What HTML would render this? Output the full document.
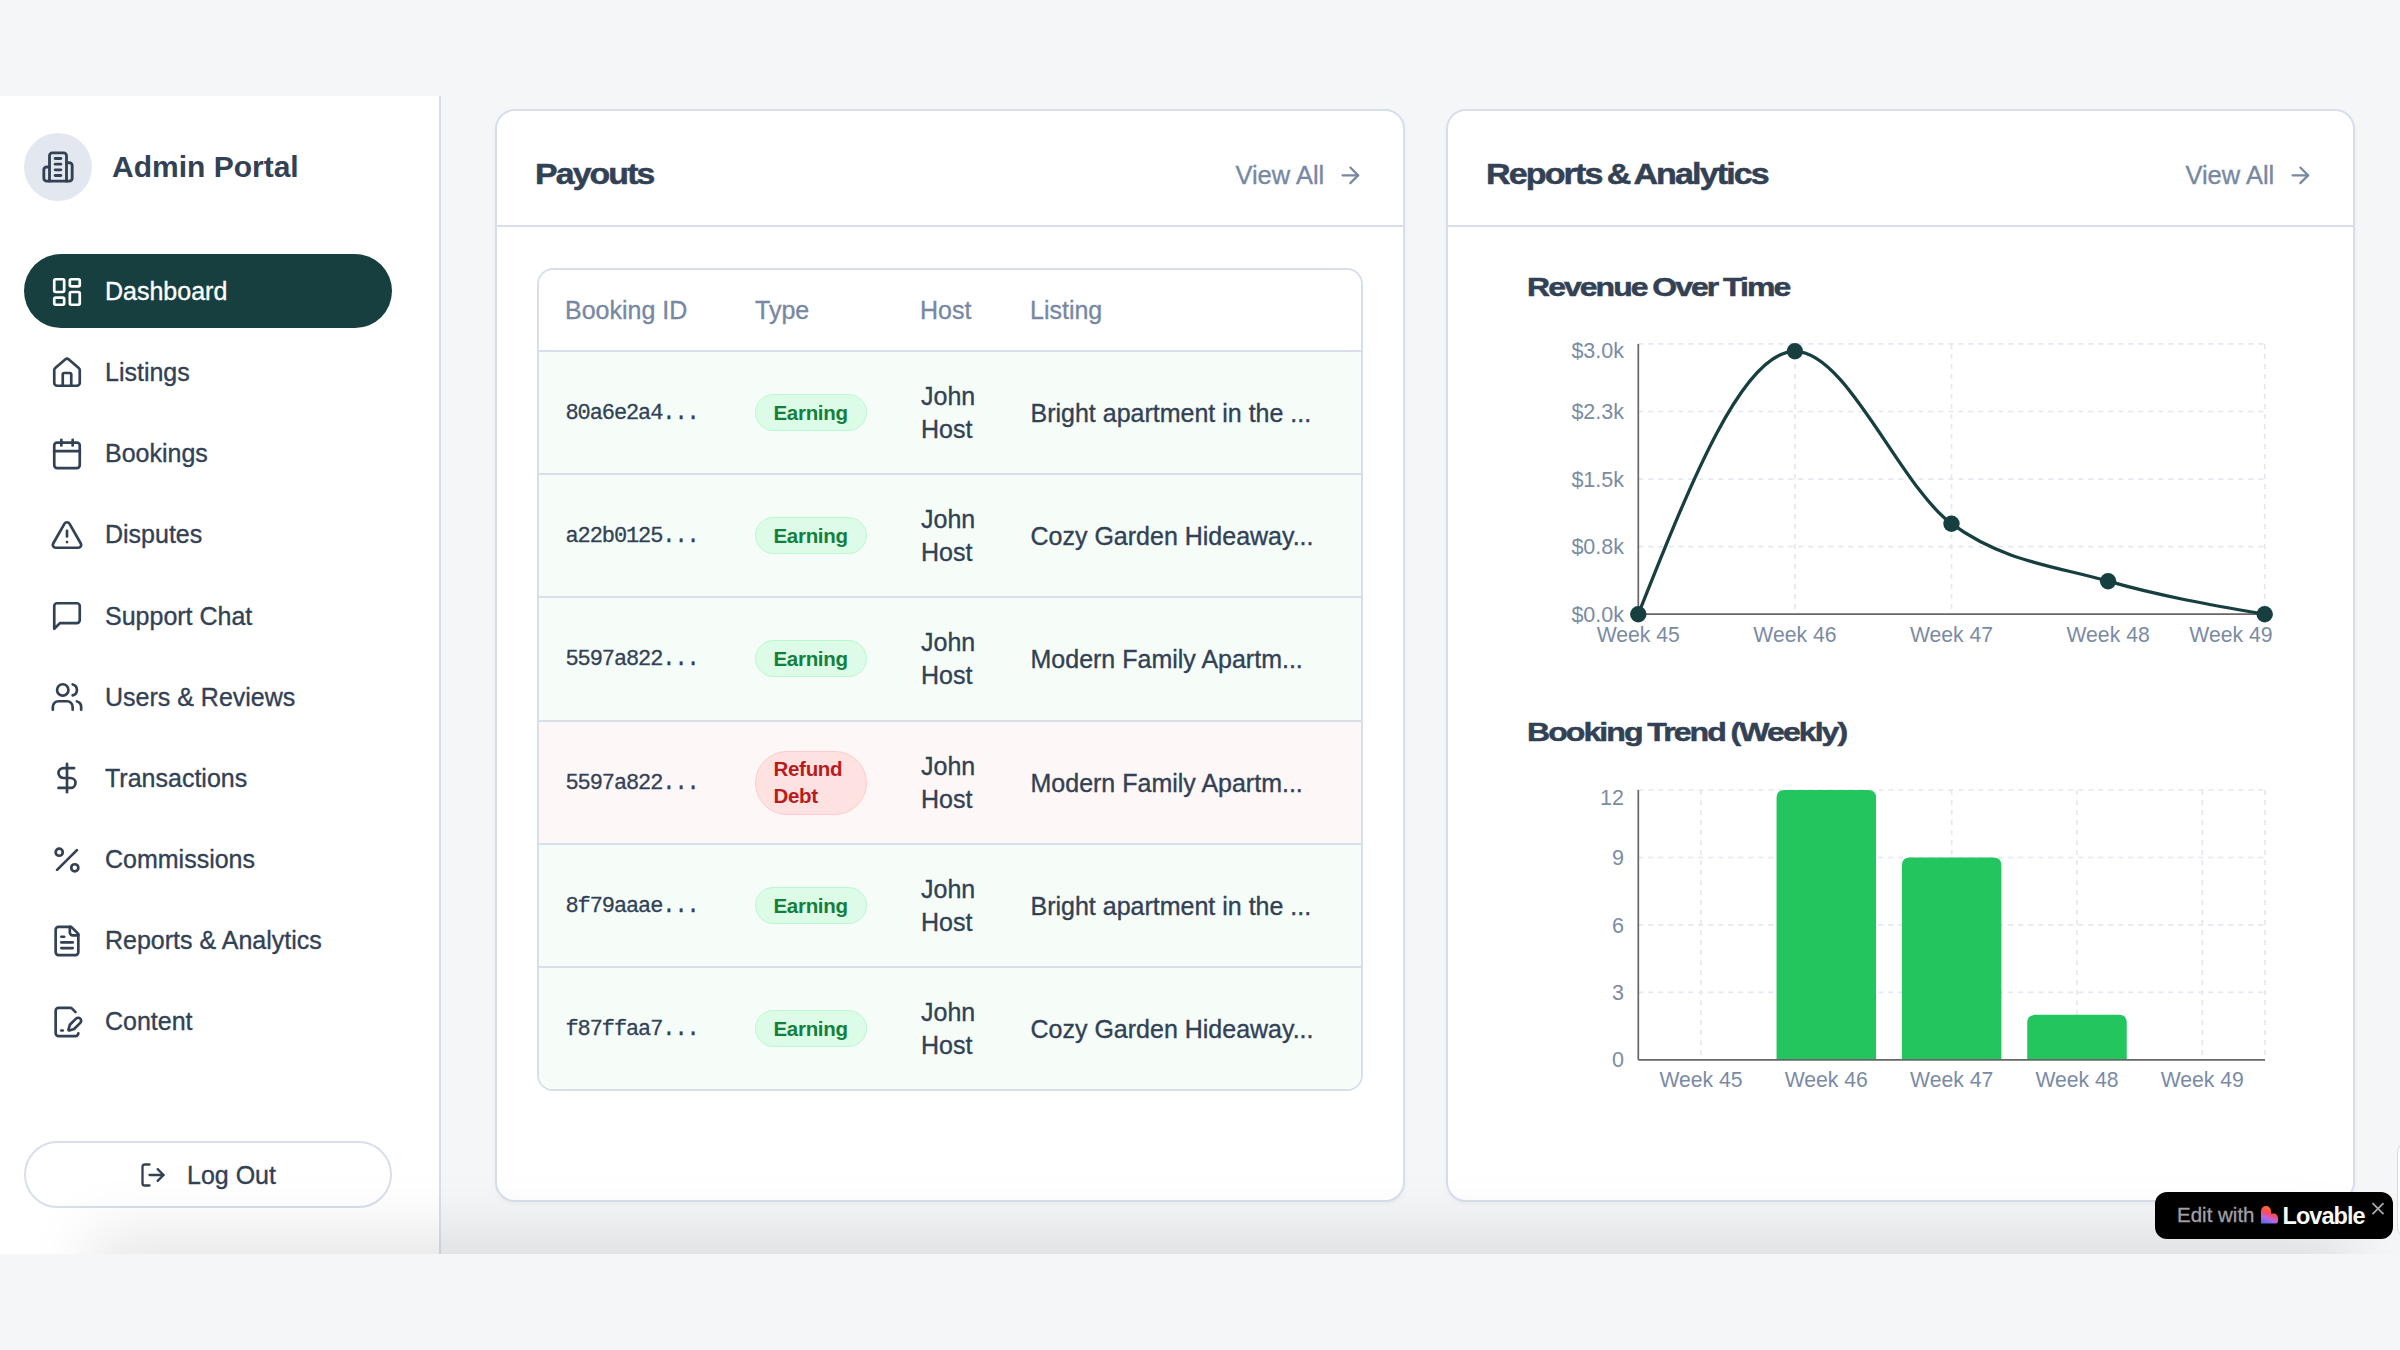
<!DOCTYPE html><html><head><meta charset="utf-8"><style>
*{margin:0;padding:0;box-sizing:border-box}
html,body{width:2400px;height:1350px;overflow:hidden;background:#f5f6f8;font-family:"Liberation Sans",sans-serif;color:#334155}
.abs{position:absolute}
.ic{position:absolute;display:block}
.t{position:absolute;white-space:nowrap;line-height:1}
.med{-webkit-text-stroke:0.35px currentColor}
.sidebar{position:absolute;left:0;top:96px;width:441px;height:1158px;background:#fff;border-right:2px solid #d8dfeb}
.logo{position:absolute;left:24px;top:133px;width:68px;height:68px;border-radius:50%;background:#e3e8f0}
.pill{position:absolute;left:24px;width:368px;height:74px;border-radius:37px;background:#173f3f}
.card{position:absolute;top:109px;height:1093px;background:#fff;border:2px solid #d8dfeb;border-radius:20px;box-shadow:0 2px 4px rgba(0,0,0,0.04)}
.hdiv{position:absolute;left:0;right:0;top:114px;height:2px;background:#d8dfeb}
.title{position:absolute;font-weight:700;line-height:1;white-space:nowrap;transform-origin:0 100%}
.tbl{position:absolute;left:537px;top:268px;width:826px;height:823px;border:2px solid #d8dfeb;border-radius:16px;overflow:hidden;background:#fff}
.row{position:absolute;left:0;right:0;height:123px;border-top:2px solid #d8dfeb}
.badge{position:absolute;border:1.7px solid;border-radius:19px;font-weight:700;font-size:20.5px;letter-spacing:-0.3px;line-height:27px}
.logout{position:absolute;left:24px;top:1141px;width:368px;height:67px;border:2px solid #d8dfeb;border-radius:34px}
</style></head><body><div class="sidebar"></div>
<div class="logo"></div>
<svg class="ic" style="left:40.5px;top:149.5px;width:34px;height:34px" viewBox="0 0 24 24" fill="none" stroke="#334155" stroke-width="2" stroke-linecap="round" stroke-linejoin="round"><path d="M6 22V4a2 2 0 0 1 2-2h8a2 2 0 0 1 2 2v18Z"/><path d="M6 12H4a2 2 0 0 0-2 2v6a2 2 0 0 0 2 2h2"/><path d="M18 9h2a2 2 0 0 1 2 2v9a2 2 0 0 1-2 2h-2"/><path d="M10 6h4"/><path d="M10 10h4"/><path d="M10 14h4"/><path d="M10 18h4"/></svg>
<div class="t" style="left:112px;top:155px;font-size:30px;font-weight:700;height:23px;line-height:23px">Admin Portal</div>
<div class="pill" style="top:254px"></div>
<svg class="ic" style="left:50.3px;top:274.5px;width:34px;height:34px" viewBox="0 0 24 24" fill="none" stroke="#fff" stroke-width="1.9" stroke-linecap="round" stroke-linejoin="round"><rect width="7" height="9" x="3" y="3" rx="1"/><rect width="7" height="5" x="14" y="3" rx="1"/><rect width="7" height="9" x="14" y="12" rx="1"/><rect width="7" height="5" x="3" y="16" rx="1"/></svg>
<div class="t med" style="left:105px;top:277.0px;font-size:25px;line-height:28px;color:#fff">Dashboard</div>
<svg class="ic" style="left:50.3px;top:355.65px;width:34px;height:34px" viewBox="0 0 24 24" fill="none" stroke="#334155" stroke-width="1.9" stroke-linecap="round" stroke-linejoin="round"><path d="M15 21v-8a1 1 0 0 0-1-1h-4a1 1 0 0 0-1 1v8"/><path d="M3 10a2 2 0 0 1 .709-1.528l7-5.999a2 2 0 0 1 2.582 0l7 5.999A2 2 0 0 1 21 10v9a2 2 0 0 1-2 2H5a2 2 0 0 1-2-2z"/></svg>
<div class="t med" style="left:105px;top:358.15px;font-size:25px;line-height:28px;color:#334155">Listings</div>
<svg class="ic" style="left:50.3px;top:436.8px;width:34px;height:34px" viewBox="0 0 24 24" fill="none" stroke="#334155" stroke-width="1.9" stroke-linecap="round" stroke-linejoin="round"><path d="M8 2v4"/><path d="M16 2v4"/><rect width="18" height="18" x="3" y="4" rx="2"/><path d="M3 10h18"/></svg>
<div class="t med" style="left:105px;top:439.3px;font-size:25px;line-height:28px;color:#334155">Bookings</div>
<svg class="ic" style="left:50.3px;top:517.95px;width:34px;height:34px" viewBox="0 0 24 24" fill="none" stroke="#334155" stroke-width="1.9" stroke-linecap="round" stroke-linejoin="round"><path d="m21.73 18-8-14a2 2 0 0 0-3.48 0l-8 14A2 2 0 0 0 4 21h16a2 2 0 0 0 1.73-3"/><path d="M12 9v4"/><path d="M12 17h.01"/></svg>
<div class="t med" style="left:105px;top:520.45px;font-size:25px;line-height:28px;color:#334155">Disputes</div>
<svg class="ic" style="left:50.3px;top:599.1px;width:34px;height:34px" viewBox="0 0 24 24" fill="none" stroke="#334155" stroke-width="1.9" stroke-linecap="round" stroke-linejoin="round"><path d="M21 15a2 2 0 0 1-2 2H7l-4 4V5a2 2 0 0 1 2-2h14a2 2 0 0 1 2 2z"/></svg>
<div class="t med" style="left:105px;top:601.6px;font-size:25px;line-height:28px;color:#334155">Support Chat</div>
<svg class="ic" style="left:50.3px;top:680.25px;width:34px;height:34px" viewBox="0 0 24 24" fill="none" stroke="#334155" stroke-width="1.9" stroke-linecap="round" stroke-linejoin="round"><path d="M16 21v-2a4 4 0 0 0-4-4H6a4 4 0 0 0-4 4v2"/><circle cx="9" cy="7" r="4"/><path d="M22 21v-2a4 4 0 0 0-3-3.87"/><path d="M16 3.13a4 4 0 0 1 0 7.75"/></svg>
<div class="t med" style="left:105px;top:682.75px;font-size:25px;line-height:28px;color:#334155">Users &amp; Reviews</div>
<svg class="ic" style="left:50.3px;top:761.4000000000001px;width:34px;height:34px" viewBox="0 0 24 24" fill="none" stroke="#334155" stroke-width="1.9" stroke-linecap="round" stroke-linejoin="round"><line x1="12" x2="12" y1="2" y2="22"/><path d="M17 5H9.5a3.5 3.5 0 0 0 0 7h5a3.5 3.5 0 0 1 0 7H6"/></svg>
<div class="t med" style="left:105px;top:763.9000000000001px;font-size:25px;line-height:28px;color:#334155">Transactions</div>
<svg class="ic" style="left:50.3px;top:842.5500000000001px;width:34px;height:34px" viewBox="0 0 24 24" fill="none" stroke="#334155" stroke-width="1.9" stroke-linecap="round" stroke-linejoin="round"><line x1="19" x2="5" y1="5" y2="19"/><circle cx="6.5" cy="6.5" r="2.5"/><circle cx="17.5" cy="17.5" r="2.5"/></svg>
<div class="t med" style="left:105px;top:845.0500000000001px;font-size:25px;line-height:28px;color:#334155">Commissions</div>
<svg class="ic" style="left:50.3px;top:923.7px;width:34px;height:34px" viewBox="0 0 24 24" fill="none" stroke="#334155" stroke-width="1.9" stroke-linecap="round" stroke-linejoin="round"><path d="M15 2H6a2 2 0 0 0-2 2v16a2 2 0 0 0 2 2h12a2 2 0 0 0 2-2V7Z"/><path d="M14 2v4a2 2 0 0 0 2 2h4"/><path d="M10 9H8"/><path d="M16 13H8"/><path d="M16 17H8"/></svg>
<div class="t med" style="left:105px;top:926.2px;font-size:25px;line-height:28px;color:#334155">Reports &amp; Analytics</div>
<svg class="ic" style="left:50.3px;top:1004.85px;width:34px;height:34px" viewBox="0 0 24 24" fill="none" stroke="#334155" stroke-width="1.9" stroke-linecap="round" stroke-linejoin="round"><path d="m18 5-2.414-2.414A2 2 0 0 0 14.172 2H6a2 2 0 0 0-2 2v16a2 2 0 0 0 2 2h12a2 2 0 0 0 2-2"/><path d="M21.378 12.626a1 1 0 0 0-3.004-3.004l-4.01 4.012a2 2 0 0 0-.506.854l-.837 2.87a.5.5 0 0 0 .62.62l2.87-.837a2 2 0 0 0 .854-.506z"/><path d="M8 18h1"/></svg>
<div class="t med" style="left:105px;top:1007.35px;font-size:25px;line-height:28px;color:#334155">Content</div>
<div class="logout"></div>
<svg class="ic" style="left:138.75px;top:1161px;width:28px;height:28px" viewBox="0 0 24 24" fill="none" stroke="#334155" stroke-width="2" stroke-linecap="round" stroke-linejoin="round"><path d="M9 21H5a2 2 0 0 1-2-2V5a2 2 0 0 1 2-2h4"/><polyline points="16 17 21 12 16 7"/><line x1="21" x2="9" y1="12" y2="12"/></svg>
<div class="t med" style="left:187px;top:1161px;font-size:25px;line-height:28px">Log Out</div>
<div class="card" style="left:495px;width:910px"><div class="hdiv"></div></div>
<div class="title" style="left:535px;top:161.0px;font-size:29px;letter-spacing:-1.6px;word-spacing:-2px;-webkit-text-stroke:0.5px currentColor;height:26px;line-height:26px;transform:scaleX(1.166)">Payouts</div>
<div class="t med" style="left:1235.4px;top:161px;font-size:25.5px;line-height:28px;color:#7888a2">View All</div>
<svg class="ic" style="left:1336.55px;top:161.65px;width:26.7px;height:26.7px" viewBox="0 0 24 24" fill="none" stroke="#7888a2" stroke-width="2" stroke-linecap="round" stroke-linejoin="round"><path d="M5 12h14"/><path d="m12 5 7 7-7 7"/></svg>
<div class="card" style="left:1446px;width:909px"><div class="hdiv"></div></div>
<div class="title" style="left:1486px;top:161.0px;font-size:29px;letter-spacing:-1.6px;word-spacing:-2px;-webkit-text-stroke:0.5px currentColor;height:26px;line-height:26px;transform:scaleX(1.174)">Reports &amp; Analytics</div>
<div class="t med" style="left:2185.4px;top:161px;font-size:25.5px;line-height:28px;color:#7888a2">View All</div>
<svg class="ic" style="left:2286.55px;top:161.65px;width:26.7px;height:26.7px" viewBox="0 0 24 24" fill="none" stroke="#7888a2" stroke-width="2" stroke-linecap="round" stroke-linejoin="round"><path d="M5 12h14"/><path d="m12 5 7 7-7 7"/></svg>
<div class="tbl">
<div class="t med" style="left:26px;top:25.5px;font-size:25px;line-height:28px;color:#7888a2">Booking ID</div>
<div class="t med" style="left:216px;top:25.5px;font-size:25px;line-height:28px;color:#7888a2">Type</div>
<div class="t med" style="left:381px;top:25.5px;font-size:25px;line-height:28px;color:#7888a2">Host</div>
<div class="t med" style="left:491px;top:25.5px;font-size:25px;line-height:28px;color:#7888a2">Listing</div>
<div class="row" style="top:80px;height:123px;background:#f6fdf9">
<div class="t" style="left:26.5px;top:47.5px;font-family:'Liberation Mono',monospace;font-size:22px;letter-spacing:-1.1px;line-height:28px;-webkit-text-stroke:0.3px currentColor">80a6e2a4...</div>
<div class="badge" style="left:215.5px;top:42px;width:112px;height:37px;background:#dcfce7;border-color:#bbf7d0;color:#15803d;padding:4px 0 0 18px">Earning</div>
<div class="t med" style="left:382px;top:27.5px;font-size:25px;line-height:33px">John<br>Host</div>
<div class="t med" style="left:491.5px;top:46.5px;font-size:25px;line-height:28px">Bright apartment in the ...</div>
</div>
<div class="row" style="top:203px;height:123px;background:#f6fdf9">
<div class="t" style="left:26.5px;top:47.5px;font-family:'Liberation Mono',monospace;font-size:22px;letter-spacing:-1.1px;line-height:28px;-webkit-text-stroke:0.3px currentColor">a22b0125...</div>
<div class="badge" style="left:215.5px;top:42px;width:112px;height:37px;background:#dcfce7;border-color:#bbf7d0;color:#15803d;padding:4px 0 0 18px">Earning</div>
<div class="t med" style="left:382px;top:27.5px;font-size:25px;line-height:33px">John<br>Host</div>
<div class="t med" style="left:491.5px;top:46.5px;font-size:25px;line-height:28px">Cozy Garden Hideaway...</div>
</div>
<div class="row" style="top:326px;height:124px;background:#f6fdf9">
<div class="t" style="left:26.5px;top:47.5px;font-family:'Liberation Mono',monospace;font-size:22px;letter-spacing:-1.1px;line-height:28px;-webkit-text-stroke:0.3px currentColor">5597a822...</div>
<div class="badge" style="left:215.5px;top:42px;width:112px;height:37px;background:#dcfce7;border-color:#bbf7d0;color:#15803d;padding:4px 0 0 18px">Earning</div>
<div class="t med" style="left:382px;top:27.5px;font-size:25px;line-height:33px">John<br>Host</div>
<div class="t med" style="left:491.5px;top:46.5px;font-size:25px;line-height:28px">Modern Family Apartm...</div>
</div>
<div class="row" style="top:450px;height:123px;background:#fef7f7">
<div class="t" style="left:26.5px;top:47.5px;font-family:'Liberation Mono',monospace;font-size:22px;letter-spacing:-1.1px;line-height:28px;-webkit-text-stroke:0.3px currentColor">5597a822...</div>
<div class="badge" style="left:215.5px;top:28.5px;width:112px;height:64px;background:#fee2e2;border-color:#fecaca;color:#b91c1c;padding:3px 0 0 18px;border-radius:32px;white-space:normal">Refund<br>Debt</div>
<div class="t med" style="left:382px;top:27.5px;font-size:25px;line-height:33px">John<br>Host</div>
<div class="t med" style="left:491.5px;top:46.5px;font-size:25px;line-height:28px">Modern Family Apartm...</div>
</div>
<div class="row" style="top:573px;height:123px;background:#f6fdf9">
<div class="t" style="left:26.5px;top:47.5px;font-family:'Liberation Mono',monospace;font-size:22px;letter-spacing:-1.1px;line-height:28px;-webkit-text-stroke:0.3px currentColor">8f79aaae...</div>
<div class="badge" style="left:215.5px;top:42px;width:112px;height:37px;background:#dcfce7;border-color:#bbf7d0;color:#15803d;padding:4px 0 0 18px">Earning</div>
<div class="t med" style="left:382px;top:27.5px;font-size:25px;line-height:33px">John<br>Host</div>
<div class="t med" style="left:491.5px;top:46.5px;font-size:25px;line-height:28px">Bright apartment in the ...</div>
</div>
<div class="row" style="top:696px;height:123px;background:#f6fdf9">
<div class="t" style="left:26.5px;top:47.5px;font-family:'Liberation Mono',monospace;font-size:22px;letter-spacing:-1.1px;line-height:28px;-webkit-text-stroke:0.3px currentColor">f87ffaa7...</div>
<div class="badge" style="left:215.5px;top:42px;width:112px;height:37px;background:#dcfce7;border-color:#bbf7d0;color:#15803d;padding:4px 0 0 18px">Earning</div>
<div class="t med" style="left:382px;top:27.5px;font-size:25px;line-height:33px">John<br>Host</div>
<div class="t med" style="left:491.5px;top:46.5px;font-size:25px;line-height:28px">Cozy Garden Hideaway...</div>
</div>
</div>
<div class="title" style="left:1526.5px;top:274.9px;font-size:26.3px;letter-spacing:-1.6px;word-spacing:-1px;-webkit-text-stroke:0.5px currentColor;height:24px;line-height:24px;transform:scaleX(1.215)">Revenue Over Time</div>
<div class="title" style="left:1526.5px;top:720.3px;font-size:26.3px;letter-spacing:-1.6px;word-spacing:-1px;-webkit-text-stroke:0.5px currentColor;height:24px;line-height:24px;transform:scaleX(1.219)">Booking Trend (Weekly)</div>
<svg class="abs" style="left:0;top:0" width="2400" height="1350" viewBox="0 0 2400 1350" font-family="Liberation Sans, sans-serif">
<line x1="1638.3" x2="2264.7" y1="343.9" y2="343.9" stroke="#e3e8f1" stroke-width="1.7" stroke-dasharray="5 5"/>
<line x1="1638.3" x2="2264.7" y1="411.5" y2="411.5" stroke="#e3e8f1" stroke-width="1.7" stroke-dasharray="5 5"/>
<line x1="1638.3" x2="2264.7" y1="479.1" y2="479.1" stroke="#e3e8f1" stroke-width="1.7" stroke-dasharray="5 5"/>
<line x1="1638.3" x2="2264.7" y1="546.6" y2="546.6" stroke="#e3e8f1" stroke-width="1.7" stroke-dasharray="5 5"/>
<line x1="1794.8999999999999" x2="1794.8999999999999" y1="343.9" y2="614.2" stroke="#e3e8f1" stroke-width="1.7" stroke-dasharray="5 5"/>
<line x1="1951.5" x2="1951.5" y1="343.9" y2="614.2" stroke="#e3e8f1" stroke-width="1.7" stroke-dasharray="5 5"/>
<line x1="2264.7" x2="2264.7" y1="343.9" y2="614.2" stroke="#e3e8f1" stroke-width="1.7" stroke-dasharray="5 5"/>
<line x1="1638.3" x2="1638.3" y1="343.9" y2="614.2" stroke="#666666" stroke-width="1.7"/>
<line x1="1638.3" x2="2264.7" y1="614.2" y2="614.2" stroke="#666666" stroke-width="1.7"/>
<path d="M1638.30,614.20C1690.50,482.75,1742.70,351.30,1794.90,351.30C1847.10,351.30,1899.30,485.38,1951.50,523.70C2003.70,562.02,2055.90,566.12,2108.10,581.20C2160.30,596.28,2212.50,605.24,2264.70,614.20" fill="none" stroke="#173f3f" stroke-width="3.3"/>
<circle cx="1638.30" cy="614.2" r="8.2" fill="#173f3f"/>
<circle cx="1794.90" cy="351.3" r="8.2" fill="#173f3f"/>
<circle cx="1951.50" cy="523.7" r="8.2" fill="#173f3f"/>
<circle cx="2108.10" cy="581.2" r="8.2" fill="#173f3f"/>
<circle cx="2264.70" cy="614.2" r="8.2" fill="#173f3f"/>
<text x="1624" y="358.20000000000005" text-anchor="end" font-size="21.5" fill="#7b8ba4">$3.0k</text>
<text x="1624" y="419.1" text-anchor="end" font-size="21.5" fill="#7b8ba4">$2.3k</text>
<text x="1624" y="486.70000000000005" text-anchor="end" font-size="21.5" fill="#7b8ba4">$1.5k</text>
<text x="1624" y="554.2" text-anchor="end" font-size="21.5" fill="#7b8ba4">$0.8k</text>
<text x="1624" y="621.8000000000001" text-anchor="end" font-size="21.5" fill="#7b8ba4">$0.0k</text>
<text x="1638.3" y="642" text-anchor="middle" font-size="21.2" fill="#7b8ba4">Week 45</text>
<text x="1794.9" y="642" text-anchor="middle" font-size="21.2" fill="#7b8ba4">Week 46</text>
<text x="1951.5" y="642" text-anchor="middle" font-size="21.2" fill="#7b8ba4">Week 47</text>
<text x="2108.1" y="642" text-anchor="middle" font-size="21.2" fill="#7b8ba4">Week 48</text>
<text x="2272.6" y="642" text-anchor="end" font-size="21.2" fill="#7b8ba4">Week 49</text>
<line x1="1638.3" x2="2265" y1="790.0" y2="790.0" stroke="#e3e8f1" stroke-width="1.7" stroke-dasharray="5 5"/>
<line x1="1638.3" x2="2265" y1="857.5" y2="857.5" stroke="#e3e8f1" stroke-width="1.7" stroke-dasharray="5 5"/>
<line x1="1638.3" x2="2265" y1="924.9" y2="924.9" stroke="#e3e8f1" stroke-width="1.7" stroke-dasharray="5 5"/>
<line x1="1638.3" x2="2265" y1="992.3" y2="992.3" stroke="#e3e8f1" stroke-width="1.7" stroke-dasharray="5 5"/>
<line x1="1701.0" x2="1701.0" y1="790" y2="1059.8" stroke="#e3e8f1" stroke-width="1.7" stroke-dasharray="5 5"/>
<line x1="1826.3" x2="1826.3" y1="790" y2="1059.8" stroke="#e3e8f1" stroke-width="1.7" stroke-dasharray="5 5"/>
<line x1="1951.7" x2="1951.7" y1="790" y2="1059.8" stroke="#e3e8f1" stroke-width="1.7" stroke-dasharray="5 5"/>
<line x1="2077.0" x2="2077.0" y1="790" y2="1059.8" stroke="#e3e8f1" stroke-width="1.7" stroke-dasharray="5 5"/>
<line x1="2202.3" x2="2202.3" y1="790" y2="1059.8" stroke="#e3e8f1" stroke-width="1.7" stroke-dasharray="5 5"/>
<line x1="2265.0" x2="2265.0" y1="790" y2="1059.8" stroke="#e3e8f1" stroke-width="1.7" stroke-dasharray="5 5"/>
<path d="M1776.56,1059.8 V798.00 Q1776.56,790.00 1784.56,790.00 H1868.06 Q1876.06,790.00 1876.06,798.00 V1059.8 Z" fill="#22c55e"/>
<path d="M1901.90,1059.8 V865.45 Q1901.90,857.45 1909.90,857.45 H1993.40 Q2001.40,857.45 2001.40,865.45 V1059.8 Z" fill="#22c55e"/>
<path d="M2027.24,1059.8 V1022.83 Q2027.24,1014.83 2035.24,1014.83 H2118.74 Q2126.74,1014.83 2126.74,1022.83 V1059.8 Z" fill="#22c55e"/>
<line x1="1638.3" x2="1638.3" y1="790" y2="1059.8" stroke="#666666" stroke-width="1.7"/>
<line x1="1638.3" x2="2265" y1="1059.8" y2="1059.8" stroke="#666666" stroke-width="1.7"/>
<text x="1624" y="804.6" text-anchor="end" font-size="21.5" fill="#7b8ba4">12</text>
<text x="1624" y="865.0" text-anchor="end" font-size="21.5" fill="#7b8ba4">9</text>
<text x="1624" y="932.5" text-anchor="end" font-size="21.5" fill="#7b8ba4">6</text>
<text x="1624" y="999.9" text-anchor="end" font-size="21.5" fill="#7b8ba4">3</text>
<text x="1624" y="1067.3999999999999" text-anchor="end" font-size="21.5" fill="#7b8ba4">0</text>
<text x="1701.0" y="1087.4" text-anchor="middle" font-size="21.2" fill="#7b8ba4">Week 45</text>
<text x="1826.3" y="1087.4" text-anchor="middle" font-size="21.2" fill="#7b8ba4">Week 46</text>
<text x="1951.7" y="1087.4" text-anchor="middle" font-size="21.2" fill="#7b8ba4">Week 47</text>
<text x="2077.0" y="1087.4" text-anchor="middle" font-size="21.2" fill="#7b8ba4">Week 48</text>
<text x="2202.3" y="1087.4" text-anchor="middle" font-size="21.2" fill="#7b8ba4">Week 49</text>
</svg>
<div class="abs" style="left:0;top:0;width:2400px;height:1254px;overflow:hidden;pointer-events:none"><div class="abs" style="left:110px;right:70px;top:1254px;height:200px;box-shadow:0 0 60px 20px rgba(0,0,0,0.10)"></div></div>
<div class="abs" style="left:2397px;top:1139px;width:30px;height:102px;background:#fff;border:1.5px solid #d4d8e0;border-radius:14px"></div>
<div class="abs" style="left:2155px;top:1192px;width:238px;height:47px;background:#000;border-radius:12px"></div>
<div class="t" style="left:2177px;top:1202.5px;font-size:20.5px;line-height:24px;color:#a1a1aa;-webkit-text-stroke:0.3px currentColor">Edit with</div>
<svg class="abs" style="left:2260.7px;top:1206.4px" width="17" height="17.5" viewBox="0 0 17 17.5"><defs><linearGradient id="lg" x1="0.75" y1="0" x2="0.35" y2="1"><stop offset="0" stop-color="#ff8200"/><stop offset="0.45" stop-color="#fa4a5c"/><stop offset="0.75" stop-color="#b866e6"/><stop offset="1" stop-color="#5c6cf0"/></linearGradient></defs><path d="M0,5 A5,5 0 0 1 10,5 V7.5 H12.5 A4.5,4.5 0 0 1 17,12 V15.3 A2.2,2.2 0 0 1 14.8,17.5 H0.8 A0.8,0.8 0 0 1 0,16.7 Z" fill="url(#lg)"/></svg>
<div class="t" style="left:2282.5px;top:1203.5px;font-size:23.5px;line-height:24px;color:#fafaf7;font-weight:700;letter-spacing:-0.95px">Lovable</div>
<svg class="abs" style="left:2370px;top:1201px" width="16" height="16" viewBox="0 0 16 16"><path d="M2.5,2.2 L13.5,13.2 M13.5,2.2 L2.5,13.2" stroke="#a8a8b0" stroke-width="1.8"/></svg><script>(function(){var w=window.innerWidth||2400;if(w>0&&Math.abs(w-2400)>2){document.documentElement.style.zoom=(w/2400);}})();</script></body></html>
